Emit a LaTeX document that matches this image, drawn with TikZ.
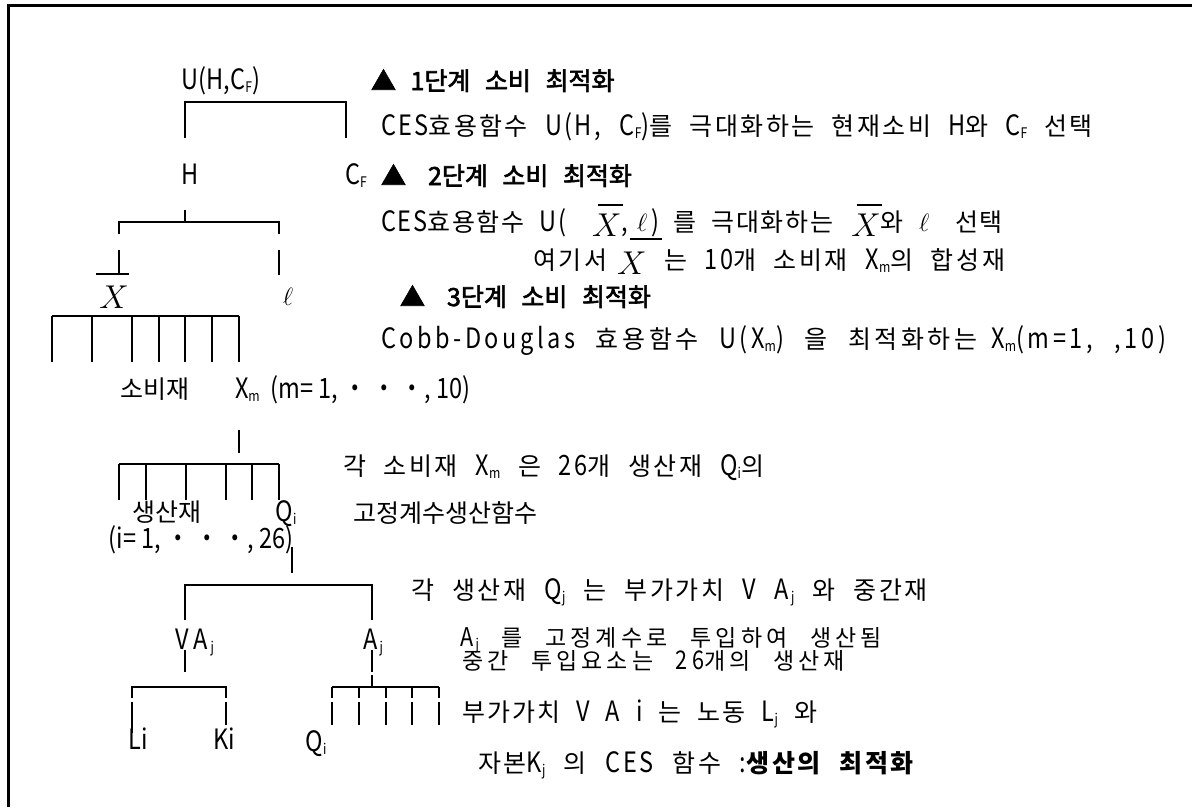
\RequirePackage{fix-cm}
\documentclass[tikz,border=0pt]{standalone}
\usepackage{fontspec}
\setmainfont{Noto Sans CJK KR}[WordSpace=2.0]
\newfontfamily\la{Noto Sans CJK KR}[Scale=1.12,FakeStretch=0.84]
\newfontfamily\hd{Noto Sans CJK KR}[FakeBold=2.5,WordSpace=2.6]
% character classes for tracking: Hangul syllables and printable ASCII
\newXeTeXintercharclass\hgcls
\newXeTeXintercharclass\ltcls
\count255="AC00
\loop\XeTeXcharclass\count255=\hgcls\relax\ifnum\count255<"D7A3 \advance\count255 by 1 \repeat
\count255="21
\loop\XeTeXcharclass\count255=\ltcls\relax\ifnum\count255<"7E \advance\count255 by 1 \repeat
\XeTeXinterchartoks\hgcls\hgcls={\hskip 0pt plus 1fil\relax}
\XeTeXinterchartoks\hgcls\ltcls={\hskip 0pt plus 1fil\relax}
\XeTeXinterchartoks\ltcls\hgcls={\hskip 0pt plus 1fil\relax}
\XeTeXinterchartoks\ltcls\ltcls={\hskip 0pt plus 1fil\relax}
% one explanation line spread evenly over a given width
\newcommand\fitline[2]{\hbox to #1pt{\XeTeXinterchartokenstate=1 \spaceskip=10pt plus 3fil\relax #2}}
% small lowered index
\newcommand\dn[1]{\raisebox{-0.25ex}{\fontsize{13}{13}\selectfont #1}}
% large italic X, plain and with a bar
\newcommand\bigX{{\fontsize{33}{33}\selectfont$X$}}
\newcommand\xbar{{\fontsize{33}{33}\selectfont\makebox[0pt][l]{\hspace{6pt}\rule[30pt]{25pt}{2.4pt}}$X$}}
\newcommand\ellsym{{\fontsize{25}{25}\selectfont$\ell$}}
\begin{document}
\begin{tikzpicture}[x=1pt,y=-1pt,font=\fontsize{25}{29}\selectfont,
  every node/.style={inner sep=0pt,outer sep=0pt},
  txt/.style={anchor=base west},
  lbl/.style={anchor=base},
  tight/.style={font=\fontsize{23}{25}\selectfont},
  branch/.style={line width=2.6pt},
  frame/.style={line width=3pt}]
\useasboundingbox (0,0) rectangle (1192,807);

% frame
\coordinate (fbl) at (8.5,807);
\coordinate (ftl) at (8.5,5.5);
\coordinate (ftr) at (1192,5.5);
\draw[frame] (fbl) -- (ftl) -- (ftr);

% ---------- tree labels ----------
\node[lbl] (u)   at (221,89) {\la U(H,C\dn{F})};
\node[lbl] (h)   at (190,184) {\la H};
\node[lbl] (cf)  at (356,184) {\la C\dn{F}};
\node[lbl] (xb)  at (114,308) {\bigX};
\node[lbl] (el)  at (288,305) {\ellsym};
\node[lbl] (sobi) at (155,398) {소비재};
\node[txt] (xm)  at (235,398) {\la X\dn{m}\ \ (m=\ 1,\ ・\ ・\ ・,\ 10)};
\node[lbl] (saeng) at (167,521) {생산재};
\node[lbl] (qi)  at (286,521) {\la Q\dn{i}};
\node[lbl] (irng) at (201,548) {\la (i=\ 1,\ ・\ ・\ ・,\ 26)};
\node[txt] (va)  at (175,649) {\la V A\dn{\,j}};
\node[txt] (aj)  at (363,649) {\la A\dn{\,j}};
\node[lbl] (li)  at (138,749) {\la Li};
\node[lbl] (ki)  at (224,749) {\la Ki};
\node[lbl] (qb)  at (316,751) {\la Q\dn{i}};

% ---------- explanations ----------
\node[txt] (h1) at (371,90) {\hd ▲ 1단계 소비 최적화};
\node[txt] (l1) at (381,135) {\fitline{712}{{\la CES}효용함수 {\la U(H, C\dn{F})}를 극대화하는 현재소비 {\la H}와 {\la C\dn{F}} 선택}};
\node[txt] (h2) at (381,185) {\hd ▲\hspace{22pt}2단계 소비 최적화};
\node[txt] (l2) at (381,231) {\fitline{622}{{\la CES}효용함수 {\la U(}\hspace{26pt}\raisebox{-5pt}{\xbar}{\la ,}\hspace{9pt}\ellsym\hspace{4pt}{\la )}\hspace{14pt}를 극대화하는\hspace{18pt}\raisebox{-5pt}{\xbar}와 \ellsym\hspace{26pt}선택}};
\node[txt] (l3) at (533,269) {\fitline{472}{여기서\hspace{10pt}\raisebox{-5pt}{\bigX} 는 {\la 10}개 소비재 {\la X\dn{m}}의 합성재}};
\node[txt] (h3) at (400,306) {\hd ▲\hspace{22pt}3단계 소비 최적화};
\node[txt] (l4) at (381,348) {\fitline{785}{{\la Cobb-Douglas} 효용함수 {\la U(X\dn{m})} 을 최적화하는\hspace{14pt}{\la X\dn{m}(m=1,\hspace{22pt},10)}}};
\node[txt] (l5) at (343,475) {\fitline{421}{각 소비재 {\la X\dn{m}} 은 {\la 26}개 생산재 {\la Q\dn{i}}의}};
\node[txt] (l6) at (353,522) {고정계수생산함수};
\node[txt] (l7) at (411,599) {\fitline{517}{각 생산재 {\la Q\dn{j}} 는 부가가치 {\la V A\dn{\,j}} 와 중간재}};
\node[txt,tight] (l8) at (460,646) {\fitline{422}{{\la A\dn{\,j}} 를 고정계수로 투입하여 생산됨}};
\node[txt,tight] (l9) at (462,669) {\fitline{383}{중간 투입요소는 {\la 26}개의 생산재}};
\node[txt] (l10) at (462,721) {\fitline{355}{부가가치 {\la V A i} 는 노동 {\la L\dn{j}} 와}};
\node[txt] (l11) at (478,772) {\fitline{436}{자본{\la K\dn{j}} 의 {\la CES} 함수 {\la :}\textbf{생산의 최적화}}};

% stray bar between the second and third lines
\coordinate (sb1) at (630,239);
\coordinate (sb2) at (662,239);
\draw[line width=2.4pt] (sb1) -- (sb2);

% ---------- branches ----------
% U(H,CF) -> H, CF
\coordinate (a1) at (185,138); \coordinate (a2) at (185,102);
\coordinate (a3) at (346,102); \coordinate (a4) at (346,138);
\draw[branch] (a1) -- (a2) -- (a3) -- (a4);

% H -> Xbar, ell
\coordinate (b0) at (185,210); \coordinate (b1) at (185,222);
\draw[branch] (b0) -- (b1);
\coordinate (b2) at (119,234); \coordinate (b3) at (119,222);
\coordinate (b4) at (279,222); \coordinate (b5) at (279,234);
\draw[branch] (b2) -- (b3) -- (b4) -- (b5);
\coordinate (b6) at (119,250); \coordinate (b7) at (119,275);
\coordinate (b8) at (279,250); \coordinate (b9) at (279,275);
\draw[branch] (b6) -- (b7);
\draw[branch] (b8) -- (b9);
\coordinate (bx1) at (96,274); \coordinate (bx2) at (129,274);
\draw[branch] (bx1) -- (bx2);

% Xbar -> consumer goods
\coordinate (c1) at (52,316); \coordinate (c2) at (239,316);
\draw[branch] (c1) -- (c2);
\foreach \x [count=\i] in {52,92,132,159,185,212,239}{
  \coordinate (ct\i) at (\x,316); \coordinate (cb\i) at (\x,362);
  \draw[branch] (ct\i) -- (cb\i);
}

% Xm -> produced goods
\coordinate (d0) at (239,430); \coordinate (d1) at (239,453);
\draw[branch] (d0) -- (d1);
\coordinate (d2) at (119,464); \coordinate (d3) at (279,464);
\draw[branch] (d2) -- (d3);
\foreach \x [count=\i] in {119,146,186,226,252,279}{
  \coordinate (dt\i) at (\x,464); \coordinate (db\i) at (\x,500);
  \draw[branch] (dt\i) -- (db\i);
}

% Qi -> VAj, Aj
\coordinate (e0) at (292,547); \coordinate (e1) at (292,573);
\draw[branch] (e0) -- (e1);
\coordinate (e2) at (185,620); \coordinate (e3) at (185,585);
\coordinate (e4) at (372,585); \coordinate (e5) at (372,620);
\draw[branch] (e2) -- (e3) -- (e4) -- (e5);

% VAj -> Li, Ki
\coordinate (f0) at (185,650); \coordinate (f1) at (185,672);
\draw[branch] (f0) -- (f1);
\coordinate (f2) at (132,698); \coordinate (f3) at (132,687);
\coordinate (f4) at (226,687); \coordinate (f5) at (226,698);
\draw[branch] (f2) -- (f3) -- (f4) -- (f5);
\coordinate (f6) at (132,702); \coordinate (f7) at (132,733);
\coordinate (f8) at (226,702); \coordinate (f9) at (226,725);
\draw[branch] (f6) -- (f7);
\draw[branch] (f8) -- (f9);

% Aj -> intermediate goods
\coordinate (g0) at (372,650); \coordinate (g1) at (372,672);
\draw[branch] (g0) -- (g1);
\coordinate (g2) at (372,675); \coordinate (g3) at (372,687);
\draw[line width=1.8pt] (g2) -- (g3);
\coordinate (g4) at (332,687); \coordinate (g5) at (439,687);
\draw[branch] (g4) -- (g5);
\foreach \x [count=\i] in {332,359,386,412,439}{
  \coordinate (gt\i) at (\x,687); \coordinate (gm\i) at (\x,698);
  \coordinate (gn\i) at (\x,702); \coordinate (gb\i) at (\x,725);
  \draw[branch] (gt\i) -- (gm\i);
  \draw[branch] (gn\i) -- (gb\i);
}
\end{tikzpicture}
\end{document}
